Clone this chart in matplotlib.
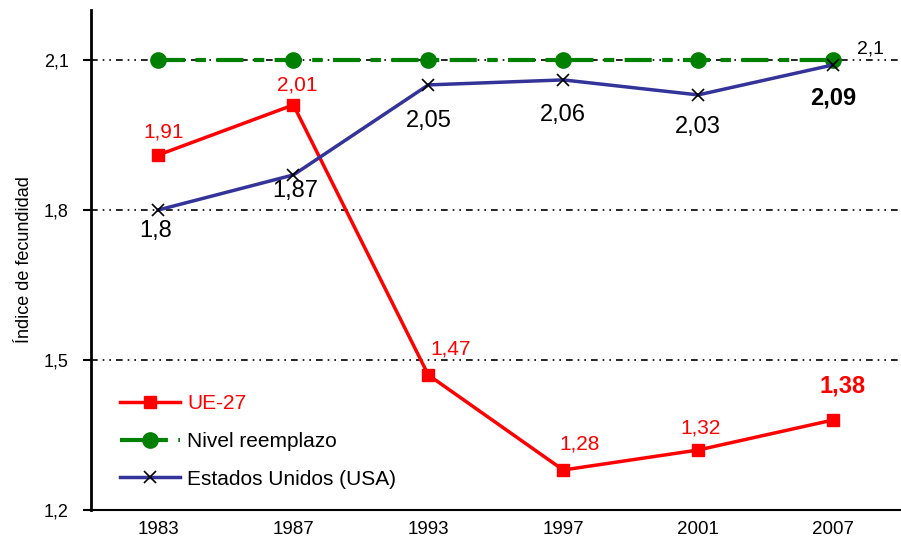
import matplotlib.pyplot as plt
import numpy as np

plt.rcParams['font.family'] = ['Liberation Sans', 'DejaVu Sans']

# datos
anios = ['1983', '1987', '1993', '1997', '2001', '2007']
ue27 = [1.91, 2.01, 1.47, 1.28, 1.32, 1.38]
reemplazo = [2.1, 2.1, 2.1, 2.1, 2.1, 2.1]
usa = [1.8, 1.87, 2.05, 2.06, 2.03, 2.09]

def fmt(v):
    return ('%g' % v).replace('.', ',')

x = np.arange(len(anios))

fig = plt.figure(figsize=(9.01, 5.49), dpi=100)
ax = fig.add_axes([0.101, 0.071, 0.906, 0.911])

# lineas de referencia
for y in [1.5, 1.8, 2.1]:
    ax.axhline(y, color='black', lw=1.2, ls=(0, (4, 3, 1, 3, 1, 3)), zorder=1)

ax.plot(x, ue27, color='#ff0000', lw=2.5, marker='s', ms=8.5, label='UE-27', zorder=3)
ax.plot(x, reemplazo, color='#008000', lw=3, ls=(0, (6.5, 2.5, 2.5, 2.5)), marker='o', ms=11,
        label='Nivel reemplazo', zorder=2)
ax.plot(x, usa, color='#333399', lw=2.5, marker='x', ms=9, mec='black', mew=1.2,
        label='Estados Unidos (USA)', zorder=4)

# etiquetas UE-27
off_ue = [(3.5, 16.5), (3, 14), (16, 19), (12, 19), (1.5, 16), (6.5, 24.5)]
for i, v in enumerate(ue27):
    bold = i == len(ue27) - 1
    ax.annotate(fmt(v), (x[i], v), xytext=off_ue[i], textcoords='offset points',
                ha='center', va='center', color='#ff0000',
                fontsize=17 if bold else 15, fontweight='bold' if bold else 'normal')

# etiquetas USA
off_usa = [(-2, -15), (1, -11.5), (0, -26), (0, -25), (0, -23), (0, -24)]
for i, v in enumerate(usa):
    bold = i == len(usa) - 1
    ax.annotate(fmt(v), (x[i], v), xytext=off_usa[i], textcoords='offset points',
                ha='center', va='center', color='black',
                fontsize=17, fontweight='bold' if bold else 'normal')

ax.annotate(fmt(reemplazo[-1]), (x[-1], reemplazo[-1]), xytext=(27, 7.5),
            textcoords='offset points', ha='center', va='center', fontsize=14)

ax.set_xlim(-0.5, 5.55)
ax.set_ylim(1.2, 2.2)
ax.set_xticks(x)
ax.set_xticklabels(anios)
ax.set_yticks([1.2, 1.5, 1.8, 2.1])
ax.set_yticklabels([fmt(v) for v in [1.2, 1.5, 1.8, 2.1]])
ax.tick_params(axis='x', length=0, pad=8, labelsize=13.5)
ax.tick_params(axis='y', length=6, width=1.5, direction='out', labelsize=13, pad=10)
ax.set_ylabel('Índice de fecundidad', fontsize=13, labelpad=8)

ax.spines['top'].set_visible(False)
ax.spines['right'].set_visible(False)
ax.spines['left'].set_linewidth(2)
ax.spines['bottom'].set_linewidth(1.5)

leg = ax.legend(loc='lower left', bbox_to_anchor=(0.012, 0.005), frameon=False,
                fontsize=15, handlelength=2.9, handletextpad=0.35, labelspacing=0.9)
leg.get_texts()[0].set_color('#ff0000')

plt.savefig('out.png', dpi=100)
